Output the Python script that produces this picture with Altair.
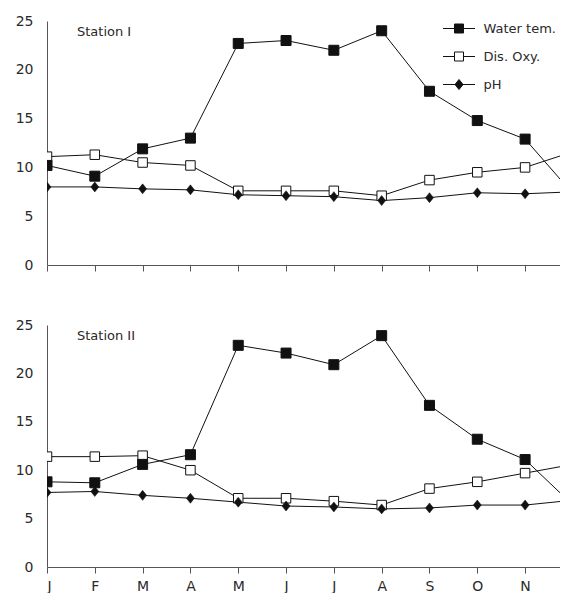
import altair as alt
import pandas as pd

months = ["J", "F", "M", "A", "M", "J", "J", "A", "S", "O", "N", "D"]
series = ["Water tem.", "Dis. Oxy.", "pH"]
stations = ["Station I", "Station II"]

st1_water = [10.2, 9.1, 11.9, 13.0, 22.7, 23.0, 22.0, 24.0, 17.8, 14.8, 12.9, 7.3]
st1_oxy = [11.1, 11.3, 10.5, 10.2, 7.6, 7.6, 7.6, 7.1, 8.7, 9.5, 10.0, 11.6]
st1_ph = [8.0, 8.0, 7.8, 7.7, 7.2, 7.1, 7.0, 6.6, 6.9, 7.4, 7.3, 7.5]

st2_water = [8.8, 8.7, 10.6, 11.6, 22.9, 22.1, 20.9, 23.9, 16.7, 13.2, 11.1, 6.4]
st2_oxy = [11.4, 11.4, 11.5, 10.0, 7.1, 7.1, 6.8, 6.4, 8.1, 8.8, 9.7, 10.6]
st2_ph = [7.7, 7.8, 7.4, 7.1, 6.7, 6.3, 6.2, 6.0, 6.1, 6.4, 6.4, 6.9]

y_ticks = [0, 5, 10, 15, 20, 25]

values = {
    "Station I": [st1_water, st1_oxy, st1_ph],
    "Station II": [st2_water, st2_oxy, st2_ph],
}
rows = []
for st in stations:
    for s, vals in zip(series, values[st]):
        for i, (m, v) in enumerate(zip(months, vals)):
            rows.append({"station": st, "series": s, "idx": i, "month": m, "value": v})
df = pd.DataFrame(rows)

label_expr = "[" + ",".join("'%s'" % m for m in months) + "][datum.value]"
FONT = "DejaVu Sans"
INK = "#111111"
TEXT = "#2a2a2a"

diamond = "M-0.8,0L0,-1L0.8,0L0,1Z"
legend_paths = [
    "M-1.6,0H-0.45M0.45,0H1.6M-0.45,-0.45H0.45V0.45H-0.45Z",
    "M-1.6,0H-0.45M0.45,0H1.6M-0.45,-0.45H0.45V0.45H-0.45Z",
    "M-1.6,0H1.6M-0.4,0L0,-0.5L0.4,0L0,0.5Z",
]
legend_fills = [INK, "white", INK]
legend_strokes = [INK, INK, INK]


def panel(station, show_labels, with_legend, height):
    d = df[df.station == station]
    base = alt.Chart(d).encode(
        x=alt.X(
            "idx:Q",
            scale=alt.Scale(domain=[0, 10.73], nice=False, zero=False),
            axis=alt.Axis(
                values=list(range(11)),
                labelExpr=label_expr,
                labels=show_labels,
                title=None,
                grid=False,
                ticks=True,
                tickSize=6,
                labelPadding=6,
            ),
        ),
        y=alt.Y(
            "value:Q",
            scale=alt.Scale(domain=[0, 25], nice=False),
            axis=alt.Axis(
                values=y_ticks, title=None, grid=False, ticks=False, labelPadding=14
            ),
        ),
    )
    lines = base.mark_line(color=INK, strokeWidth=1, clip=True).encode(
        detail="series:N"
    )
    oxy = base.transform_filter(alt.datum.series == "Dis. Oxy.").mark_point(
        shape="square", size=90, filled=True, fill="white", stroke=INK,
        strokeWidth=1, opacity=1, clip=True,
    )
    water = base.transform_filter(alt.datum.series == "Water tem.").mark_point(
        shape="square", size=100, filled=True, fill=INK, stroke=INK,
        strokeWidth=1, opacity=1, clip=True,
    )
    ph = base.transform_filter(alt.datum.series == "pH").mark_point(
        shape=diamond, size=100, filled=True, fill=INK, stroke=INK,
        strokeWidth=0.5, opacity=1, clip=True,
    )
    label = alt.Chart(pd.DataFrame({"label": [station]})).mark_text(
        align="left", baseline="middle", fontSize=13, font=FONT, color=TEXT
    ).encode(x=alt.value(30), y=alt.value(11), text="label:N")
    layers = [lines, oxy, water, ph, label]
    if with_legend:
        leg_def = dict(
            title=None,
            orient="none",
            legendX=401.5,
            legendY=-3,
            symbolSize=400,
            symbolStrokeWidth=1,
            labelOffset=14,
            rowPadding=10,
            labelFontSize=13,
            labelFont=FONT,
            labelColor=TEXT,
            padding=0,
        )
        leg = base.transform_filter("false").mark_point(
            filled=True, size=400, strokeWidth=1, opacity=1
        ).encode(
            shape=alt.Shape(
                "series:N",
                scale=alt.Scale(domain=series, range=legend_paths),
                legend=alt.Legend(**leg_def),
            ),
            fill=alt.Fill(
                "series:N",
                scale=alt.Scale(domain=series, range=legend_fills),
                legend=alt.Legend(**leg_def),
            ),
            stroke=alt.Stroke(
                "series:N",
                scale=alt.Scale(domain=series, range=legend_strokes),
                legend=alt.Legend(**leg_def),
            ),
        )
        layers.append(leg)
    return alt.layer(*layers).properties(width=513, height=height)


top = panel("Station I", False, True, 244)
bottom = panel("Station II", True, False, 242)

chart = (
    alt.vconcat(top, bottom, spacing=46)
    .properties(padding={"left": 7, "top": 6, "right": 0, "bottom": 0})
    .configure_view(stroke=None)
    .configure_axis(
        labelFont=FONT,
        labelFontSize=14,
        labelColor=TEXT,
        domainColor="#555555",
        tickColor="#555555",
    )
)

chart.save("out.html", embed_options={"renderer": "svg", "actions": False})
